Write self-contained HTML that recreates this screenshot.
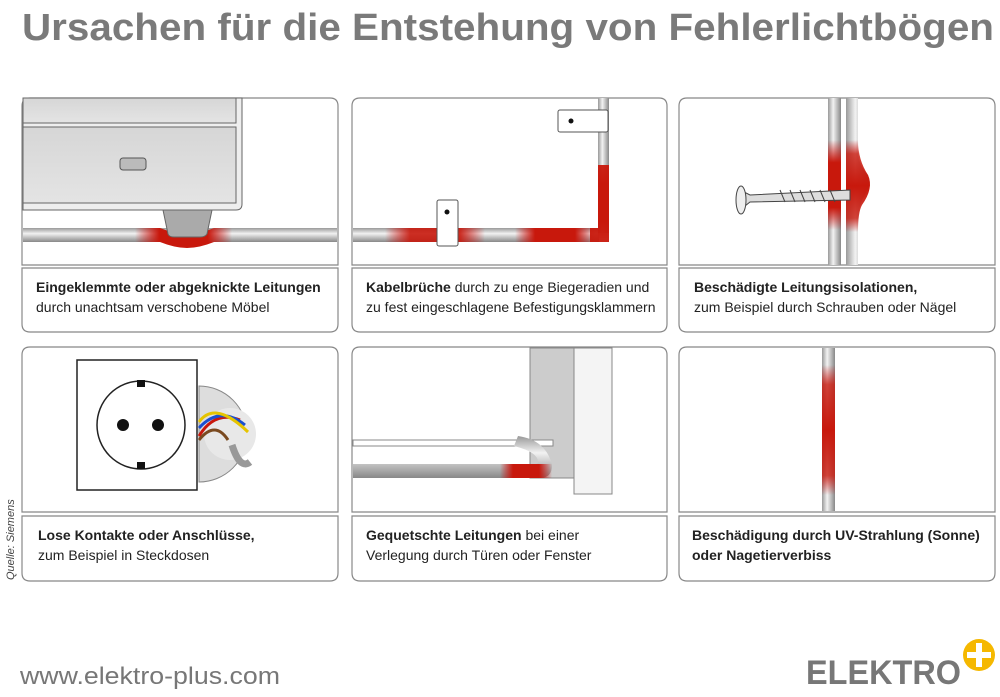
<!DOCTYPE html>
<html><head><meta charset="utf-8"><style>
body{margin:0;background:#fff;width:1000px;height:692px;overflow:hidden;font-family:"Liberation Sans",sans-serif}
</style></head><body>
<svg width="1000" height="692" viewBox="0 0 1000 692" xmlns="http://www.w3.org/2000/svg" font-family="Liberation Sans, sans-serif">
<defs>
<linearGradient id="ch" x1="0" y1="0" x2="0" y2="1"><stop offset="0" stop-color="#999"/><stop offset=".4" stop-color="#f2f2f2"/><stop offset="1" stop-color="#888"/></linearGradient>
<linearGradient id="cv" x1="0" y1="0" x2="1" y2="0"><stop offset="0" stop-color="#999"/><stop offset=".4" stop-color="#f2f2f2"/><stop offset="1" stop-color="#888"/></linearGradient>
<linearGradient id="rh" x1="0" y1="0" x2="1" y2="0"><stop offset="0" stop-color="#c00" stop-opacity="0"/><stop offset=".25" stop-color="#c8180c"/><stop offset=".75" stop-color="#c8180c"/><stop offset="1" stop-color="#c00" stop-opacity="0"/></linearGradient>
<linearGradient id="rv" x1="0" y1="0" x2="0" y2="1"><stop offset="0" stop-color="#c00" stop-opacity="0"/><stop offset=".25" stop-color="#c8180c"/><stop offset=".75" stop-color="#c8180c"/><stop offset="1" stop-color="#c00" stop-opacity="0"/></linearGradient>
<linearGradient id="rv2" x1="0" y1="0" x2="0" y2="1"><stop offset="0" stop-color="#c00" stop-opacity="0"/><stop offset=".15" stop-color="#c8180c" stop-opacity=".8"/><stop offset=".5" stop-color="#c8180c"/><stop offset=".85" stop-color="#c8180c" stop-opacity=".8"/><stop offset="1" stop-color="#c00" stop-opacity="0"/></linearGradient>
<linearGradient id="furn" x1="0" y1="0" x2="0" y2="1"><stop offset="0" stop-color="#d6d6d6"/><stop offset="1" stop-color="#e4e4e4"/></linearGradient>
</defs>
<text x="22" y="40" font-size="38" font-weight="bold" fill="#7a7a7a" textLength="972" lengthAdjust="spacingAndGlyphs">Ursachen für die Entstehung von Fehlerlichtbögen</text>

<g fill="#fff" stroke="#888" stroke-width="1.2">
<path d="M22,265 V106 Q22,98 30,98 H330 Q338,98 338,106 V265 Z"/>
<path d="M352,265 V106 Q352,98 360,98 H659 Q667,98 667,106 V265 Z"/>
<path d="M679,265 V106 Q679,98 687,98 H987 Q995,98 995,106 V265 Z"/>
<path d="M22,268 H338 V324 Q338,332 330,332 H30 Q22,332 22,324 Z"/>
<path d="M352,268 H667 V324 Q667,332 659,332 H360 Q352,332 352,324 Z"/>
<path d="M679,268 H995 V324 Q995,332 987,332 H687 Q679,332 679,324 Z"/>
<path d="M22,512 V355 Q22,347 30,347 H330 Q338,347 338,355 V512 Z"/>
<path d="M352,512 V355 Q352,347 360,347 H659 Q667,347 667,355 V512 Z"/>
<path d="M679,512 V355 Q679,347 687,347 H987 Q995,347 995,355 V512 Z"/>
<path d="M22,516 H338 V573 Q338,581 330,581 H30 Q22,581 22,573 Z"/>
<path d="M352,516 H667 V573 Q667,581 659,581 H360 Q352,581 352,573 Z"/>
<path d="M679,516 H995 V573 Q995,581 987,581 H687 Q679,581 679,573 Z"/>
</g>

<!-- panel 1 -->
<path d="M23,98 H242 V204 Q242,210 236,210 H23 Z" fill="#eee" stroke="#666"/>
<rect x="23" y="98" width="213" height="25" fill="url(#furn)" stroke="#666"/>
<rect x="23" y="127" width="213" height="76" fill="url(#furn)" stroke="#666"/>
<rect x="120" y="158" width="26" height="12" rx="3" fill="#bbb" stroke="#555"/>
<rect x="23" y="228" width="314" height="14" fill="url(#ch)"/>
<path d="M135,228 H160 Q175,234 187,234 Q199,234 214,228 H232 V242 H214 Q199,248 187,248 Q175,248 160,242 H135 Z" fill="url(#rh)"/>
<rect x="150" y="242" width="70" height="10" fill="#fff"/>
<path d="M160,242 Q175,248 187,248 Q199,248 214,242 Z" fill="#c8180c"/>
<path d="M163,210 H212 L207,234 Q205,237 200,237 H174 Q169,237 168,234 Z" fill="#aaa" stroke="#666"/>

<!-- panel 2 -->
<rect x="353" y="228" width="246" height="14" fill="url(#ch)"/>
<rect x="598" y="98" width="11" height="135" fill="url(#cv)"/>
<rect x="515" y="228" width="80" height="14" fill="url(#rh)"/>
<rect x="598" y="165" width="11" height="75" fill="url(#rv)"/>
<rect x="385" y="228" width="100" height="14" fill="url(#rh)" opacity=".9"/>
<path d="M590,228 H598 V165 H609 V242 H590 Z" fill="#c8180c" opacity=".95"/>
<rect x="437" y="200" width="21" height="46" rx="2" fill="#fff" stroke="#555"/>
<circle cx="447" cy="212" r="2.5" fill="#111"/>
<rect x="558" y="110" width="50" height="22" rx="2" fill="#fff" stroke="#555"/>
<circle cx="571" cy="121" r="2.5" fill="#111"/>

<!-- panel 3 -->
<rect x="828" y="98" width="13" height="167" fill="url(#cv)"/>
<path d="M846,98 H858 V150 Q858,165 868,175 Q872,185 862,200 Q858,210 858,230 V265 H846 Z" fill="url(#cv)"/>
<rect x="828" y="140" width="13" height="90" fill="url(#rv)"/>
<path d="M846,140 H858 Q858,160 868,175 Q874,188 862,205 Q858,212 858,232 H846 Z" fill="url(#rv2)"/>
<path d="M740,190 L750,195 L850,190 L850,200 L750,202 L740,210 Z" fill="#ddd" stroke="#444"/>
<g stroke="#444" fill="none"><path d="M780,190 l5,12 M790,190 l5,12 M800,190 l5,12 M810,190 l5,12 M820,190 l5,12 M830,190 l5,12"/></g>
<ellipse cx="741" cy="200" rx="5" ry="14" fill="#eee" stroke="#444"/>

<!-- panel 4 -->
<rect x="77" y="360" width="120" height="130" fill="#fff" stroke="#222" stroke-width="1.5"/>
<circle cx="141" cy="425" r="44" fill="#fff" stroke="#222" stroke-width="1.5"/>
<circle cx="123" cy="425" r="6" fill="#111"/><circle cx="158" cy="425" r="6" fill="#111"/>
<rect x="137" y="380" width="8" height="7" fill="#111"/><rect x="137" y="462" width="8" height="7" fill="#111"/>
<path d="M199,386 A48,48 0 1,1 199,482 Z" fill="#ddd" stroke="#888"/>
<circle cx="230" cy="434" r="26" fill="#e8e8e8"/>
<path d="M199,436 Q215,410 240,420" stroke="#c8180c" stroke-width="3" fill="none"/>
<path d="M199,428 Q220,405 245,425" stroke="#1a4fd0" stroke-width="3" fill="none"/>
<path d="M199,422 Q215,400 248,432" stroke="#e6c400" stroke-width="3" fill="none"/>
<path d="M199,440 Q215,420 228,440" stroke="#7a4a20" stroke-width="3" fill="none"/>
<path d="M232,445 Q240,470 250,462" stroke="#999" stroke-width="7" fill="none"/>

<!-- panel 5 -->
<rect x="530" y="348" width="44" height="130" fill="#ccc" stroke="#888"/>
<rect x="574" y="348" width="38" height="146" fill="#f4f4f4" stroke="#888"/>
<rect x="353" y="440" width="200" height="6" fill="#fff" stroke="#888"/>
<path d="M353,478 H540 Q552,478 552,465 Q546,440 518,436 L514,446 Q538,452 538,462 Q538,464 535,464 H353 Z" fill="url(#ch)"/>
<rect x="500" y="464" width="52" height="14" fill="url(#rh)"/>
<!-- panel 6 -->
<rect x="822" y="348" width="13" height="163" fill="url(#cv)"/>
<rect x="822" y="365" width="13" height="130" fill="url(#rv2)"/>

<g font-size="14" fill="#222">
<text x="36" y="292"><tspan font-weight="bold">Eingeklemmte oder abgeknickte Leitungen</tspan><tspan x="36" y="312">durch unachtsam verschobene Möbel</tspan></text>
<text x="366" y="292"><tspan font-weight="bold">Kabelbrüche</tspan> durch zu enge Biegeradien und<tspan x="366" y="312">zu fest eingeschlagene Befestigungsklammern</tspan></text>
<text x="694" y="292"><tspan font-weight="bold">Beschädigte Leitungsisolationen,</tspan><tspan x="694" y="312">zum Beispiel durch Schrauben oder Nägel</tspan></text>
<text x="38" y="540"><tspan font-weight="bold">Lose Kontakte oder Anschlüsse,</tspan><tspan x="38" y="560">zum Beispiel in Steckdosen</tspan></text>
<text x="366" y="540"><tspan font-weight="bold">Gequetschte Leitungen</tspan> bei einer<tspan x="366" y="560">Verlegung durch Türen oder Fenster</tspan></text>
<text x="692" y="540" font-weight="bold">Beschädigung durch UV-Strahlung (Sonne)<tspan x="692" y="560">oder Nagetierverbiss</tspan></text>
</g>
<text transform="translate(14,580) rotate(-90)" font-size="11" font-style="italic" fill="#444">Quelle: Siemens</text>
<text x="20" y="684" font-size="24" fill="#777" textLength="260" lengthAdjust="spacingAndGlyphs">www.elektro-plus.com</text>
<text x="806" y="684" font-size="34" font-weight="bold" fill="#777" textLength="155" lengthAdjust="spacingAndGlyphs">ELEKTRO</text>
<circle cx="979" cy="655" r="16" fill="#f5b800"/>
<rect x="976" y="643" width="6" height="24" fill="#fff"/><rect x="967" y="652" width="24" height="6" fill="#fff"/>
</svg>
</body></html>
